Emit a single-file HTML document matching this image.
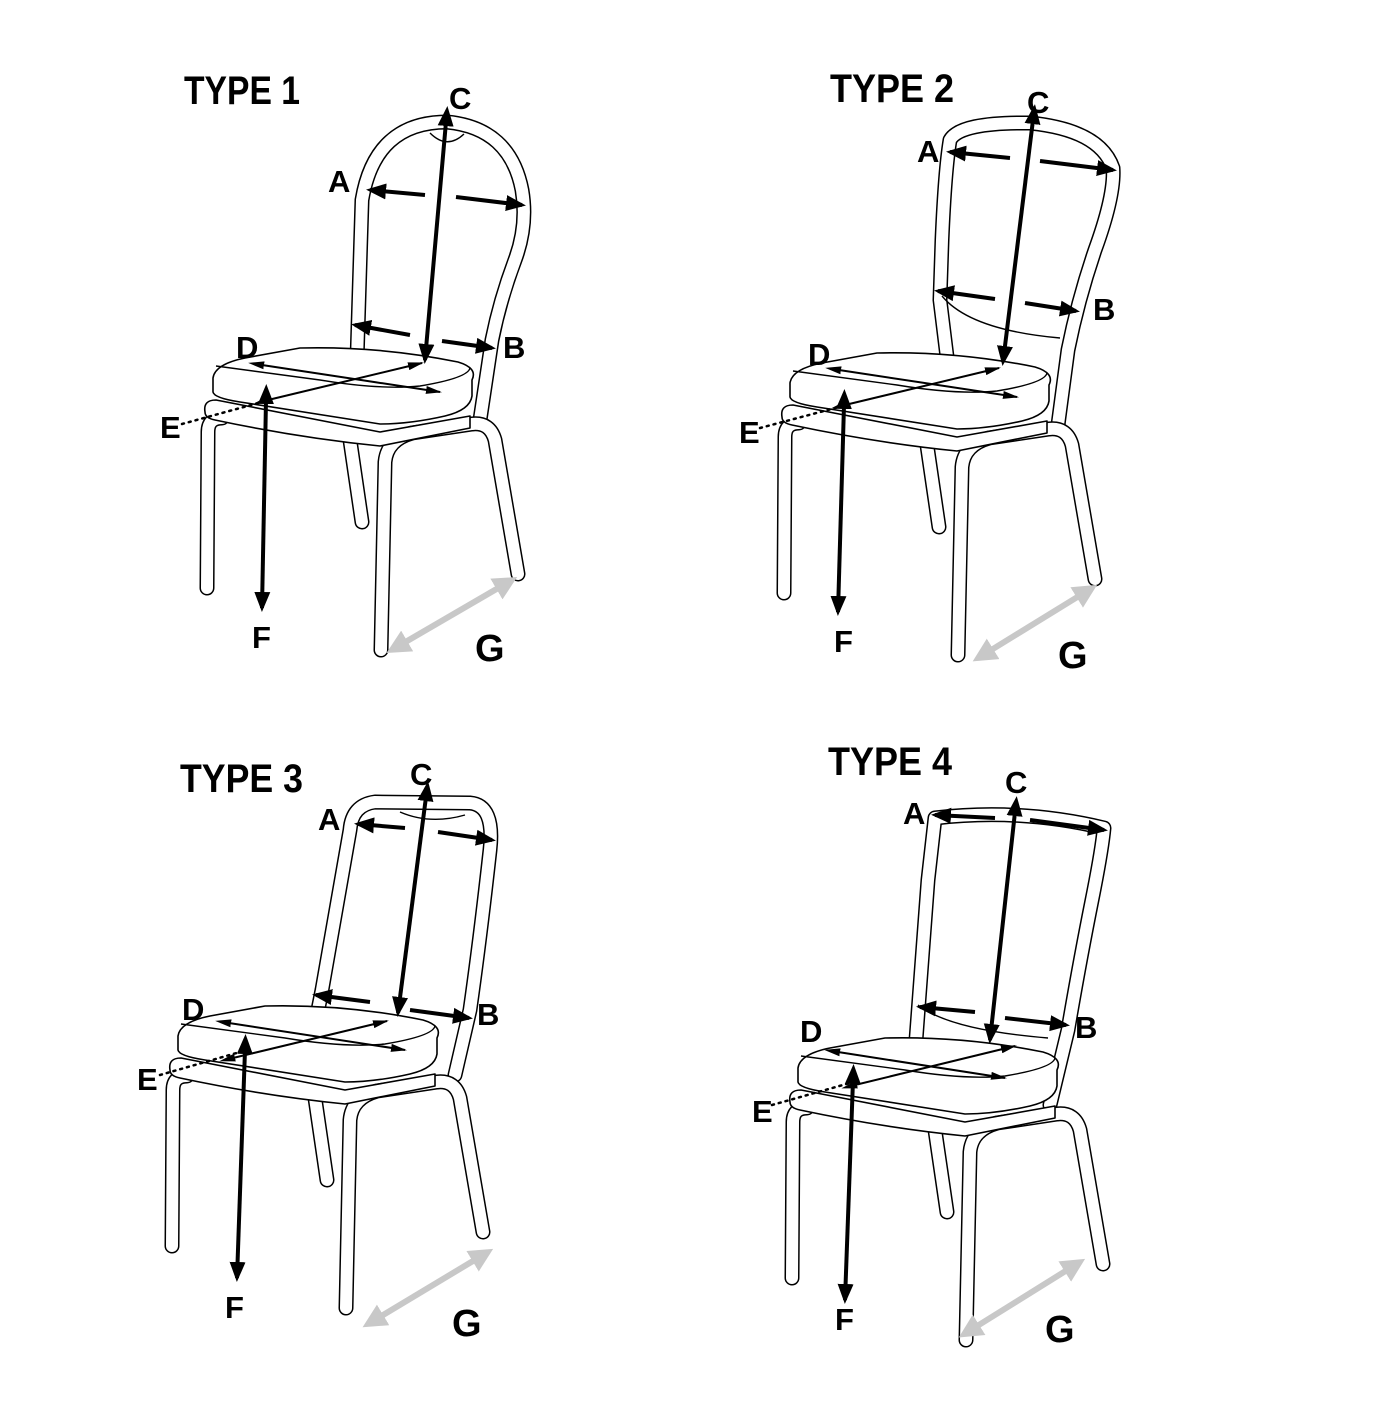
<!DOCTYPE html>
<html><head><meta charset="utf-8"><style>
html,body{margin:0;padding:0;background:#fff}
svg{display:block}
.t{font-family:"Liberation Sans Narrow","Liberation Sans",sans-serif;font-weight:bold;font-size:40px;fill:#000}
.l{font-family:"Liberation Sans",sans-serif;font-weight:bold;font-size:31px;fill:#000}
.g{font-size:38px}
.a{stroke:#000;stroke-width:4;fill:none;marker-end:url(#ah);marker-start:url(#ahs)}
.a1{stroke:#000;stroke-width:4;fill:none}
.d{stroke:#000;stroke-width:2;fill:none;marker-end:url(#sh);marker-start:url(#shs)}
.e{stroke:#000;stroke-width:2.5;stroke-dasharray:2 5;stroke-linecap:round;fill:none}
.gr{stroke:#c8c8c8;stroke-width:6;fill:none;marker-end:url(#gh);marker-start:url(#ghs)}
.tb{fill:none;stroke:#000;stroke-width:15;stroke-linecap:round;stroke-linejoin:round}
.tw{fill:none;stroke:#fff;stroke-width:12;stroke-linecap:round;stroke-linejoin:round}
.s{fill:#fff;stroke:#000;stroke-width:1.6;stroke-linejoin:round}
.ln{fill:none;stroke:#000;stroke-width:1.4}
</style></head><body>
<svg width="1400" height="1402" viewBox="0 0 1400 1402" xmlns="http://www.w3.org/2000/svg">
<defs>
<marker id="ah" markerWidth="5" markerHeight="5" refX="4" refY="2.5" orient="auto" markerUnits="strokeWidth"><path d="M0,0.5 L5,2.5 L0,4.5 Z"/></marker>
<marker id="ahs" markerWidth="5" markerHeight="5" refX="1" refY="2.5" orient="auto-start-reverse" markerUnits="strokeWidth"><path d="M0,0.5 L5,2.5 L0,4.5 Z"/></marker>
<marker id="sh" markerWidth="8" markerHeight="6" refX="7" refY="3" orient="auto" markerUnits="strokeWidth"><path d="M0,1 L8,3 L0,5 Z"/></marker>
<marker id="shs" markerWidth="8" markerHeight="6" refX="1" refY="3" orient="auto-start-reverse" markerUnits="strokeWidth"><path d="M0,1 L8,3 L0,5 Z"/></marker>
<marker id="gh" markerWidth="4" markerHeight="4" refX="3" refY="2" orient="auto" markerUnits="strokeWidth"><path d="M0,0 L4,2 L0,4 Z" fill="#c8c8c8"/></marker>
<marker id="ghs" markerWidth="4" markerHeight="4" refX="1" refY="2" orient="auto-start-reverse" markerUnits="strokeWidth"><path d="M0,0 L4,2 L0,4 Z" fill="#c8c8c8"/></marker>
<g id="legs">
<path class="tb" d="M350,440 L362,522"/><path class="tw" d="M350,440 L362,522"/>
<path class="tb" d="M207,588 L208,432 Q208,418 222,418"/><path class="tw" d="M207,588 L208,432 Q208,418 222,418"/>
<path class="tb" d="M381,650 L385,462 Q387,440 412,433 L472,424 Q490,422 495,440 L518,574"/>
<path class="tw" d="M381,650 L385,462 Q387,440 412,433 L472,424 Q490,422 495,440 L518,574"/>
</g>
<g id="seat">
<path class="s" d="M205,412 Q203,400 216,400 L380,432 L470,416 L470,428 L380,446 Q300,438 215,420 Q205,418 205,412 Z"/>
<path class="s" d="M213,378 Q215,364 245,358 L300,348 Q380,346 458,362 Q478,368 472,380 L472,396 Q470,410 445,416 Q410,424 380,424 L240,402 Q214,398 213,392 Z"/>
<path class="ln" d="M216,366 L320,380 Q380,390 420,386 Q468,378 470,368"/>
</g>
</defs>

<!-- TYPE 1 -->
<text class="t" x="184" y="104" textLength="116" lengthAdjust="spacingAndGlyphs">TYPE 1</text>
<path class="tb" d="M480,420 L492,340 Q500,300 515,260 Q528,225 522,190 Q510,128 447,122 Q375,122 362,200 L357,360"/>
<path class="tw" d="M480,420 L492,340 Q500,300 515,260 Q528,225 522,190 Q510,128 447,122 Q375,122 362,200 L357,360"/>
<path class="ln" d="M430,133 Q447,150 464,134"/>
<use href="#legs"/><use href="#seat"/>
<path class="a" d="M446,122 L425,360"/>
<path class="a1" d="M425,195 L370,190" marker-end="url(#ah)"/>
<path class="a1" d="M456,197 L522,205" marker-end="url(#ah)"/>
<path class="a1" d="M410,335 L355,325" marker-end="url(#ah)"/>
<path class="a1" d="M442,341 L492,348" marker-end="url(#ah)"/>
<path class="d" d="M262,365 L440,392"/><path class="d" d="M268,400 L422,363"/>
<path class="a" d="M266,400 L262,608"/>
<path class="e" d="M182,424 L262,402"/>
<path class="gr" d="M402,644 L512,580"/>
<text class="l" x="449" y="109">C</text><text class="l" x="328" y="192">A</text>
<text class="l" x="503" y="358">B</text><text class="l" x="236" y="358">D</text>
<text class="l" x="160" y="438">E</text><text class="l" x="252" y="648">F</text>
<text class="l g" x="475" y="661">G</text>

<!-- TYPE 2 -->
<text class="t" x="830" y="102" textLength="124" lengthAdjust="spacingAndGlyphs">TYPE 2</text>
<path class="tb" d="M1058,425 L1068,350 Q1078,300 1095,250 Q1115,195 1113,168 Q1100,130 1030,123 Q960,122 950,140 Q945,170 942,240 L940,300 L948,365"/>
<path class="tw" d="M1058,425 L1068,350 Q1078,300 1095,250 Q1115,195 1113,168 Q1100,130 1030,123 Q960,122 950,140 Q945,170 942,240 L940,300 L948,365"/>
<path class="ln" d="M942,296 Q970,330 1060,338"/>
<g transform="translate(577,5)"><use href="#legs"/><use href="#seat"/></g>
<path class="a" d="M1033,120 L1003,362"/>
<path class="a1" d="M1010,158 L950,152" marker-end="url(#ah)"/>
<path class="a1" d="M1040,161 L1113,170" marker-end="url(#ah)"/>
<path class="a1" d="M995,299 L938,291" marker-end="url(#ah)"/>
<path class="a1" d="M1025,303 L1076,311" marker-end="url(#ah)"/>
<path class="d" d="M839,370 L1017,397"/><path class="d" d="M845,405 L999,368"/>
<path class="a" d="M844,405 L838,612"/>
<path class="e" d="M760,428 L839,407"/>
<path class="gr" d="M988,652 L1092,588"/>
<text class="l" x="1027" y="113">C</text><text class="l" x="917" y="162">A</text>
<text class="l" x="1093" y="320">B</text><text class="l" x="808" y="365">D</text>
<text class="l" x="739" y="443">E</text><text class="l" x="834" y="652">F</text>
<text class="l g" x="1058" y="668">G</text>

<!-- TYPE 3 -->
<text class="t" x="180" y="792" textLength="123" lengthAdjust="spacingAndGlyphs">TYPE 3</text>
<path class="tb" d="M455,1075 L470,1010 Q480,940 490,850 Q495,805 470,803 L375,802 Q352,805 350,830 L322,990 L316,1020"/>
<path class="tw" d="M455,1075 L470,1010 Q480,940 490,850 Q495,805 470,803 L375,802 Q352,805 350,830 L322,990 L316,1020"/>
<path class="ln" d="M400,812 Q430,825 465,815"/>
<g transform="translate(-35,658)"><use href="#legs"/><use href="#seat"/></g>
<path class="a" d="M426,797 L398,1013"/>
<path class="a1" d="M405,828 L358,824" marker-end="url(#ah)"/>
<path class="a1" d="M438,832 L492,840" marker-end="url(#ah)"/>
<path class="a1" d="M370,1002 L316,995" marker-end="url(#ah)"/>
<path class="a1" d="M410,1010 L469,1018" marker-end="url(#ah)"/>
<path class="d" d="M229,1023 L405,1050"/><path class="d" d="M233,1058 L387,1021"/>
<path class="a" d="M245,1050 L237,1278"/>
<path class="e" d="M160,1075 L240,1052"/>
<path class="gr" d="M378,1318 L488,1252"/>
<text class="l" x="410" y="785">C</text><text class="l" x="318" y="830">A</text>
<text class="l" x="477" y="1025">B</text><text class="l" x="182" y="1020">D</text>
<text class="l" x="137" y="1090">E</text><text class="l" x="225" y="1318">F</text>
<text class="l g" x="452" y="1336">G</text>

<!-- TYPE 4 -->
<text class="t" x="828" y="775" textLength="124" lengthAdjust="spacingAndGlyphs">TYPE 4</text>
<path class="tb" d="M1050,1105 L1068,1030 Q1080,960 1092,900 Q1102,850 1104,828 Q1020,808 935,818 L928,880 L916,1040"/>
<path class="tw" d="M1050,1105 L1068,1030 Q1080,960 1092,900 Q1102,850 1104,828 Q1020,808 935,818 L928,880 L916,1040"/>
<path class="ln" d="M918,1005 Q950,1030 1048,1038"/>
<g transform="translate(585,690)"><use href="#legs"/><use href="#seat"/></g>
<path class="a" d="M1015,812 L990,1040"/>
<path class="a1" d="M995,818 L935,815" marker-end="url(#ah)"/>
<path class="a1" d="M1030,820 L1104,830" marker-end="url(#ah)"/>
<path class="a1" d="M975,1012 L920,1007" marker-end="url(#ah)"/>
<path class="a1" d="M1005,1018 L1066,1025" marker-end="url(#ah)"/>
<path class="d" d="M838,1052 L1005,1078"/><path class="d" d="M855,1085 L1015,1046"/>
<path class="a" d="M853,1080 L845,1300"/>
<path class="e" d="M772,1105 L850,1083"/>
<path class="gr" d="M974,1328 L1080,1262"/>
<text class="l" x="1005" y="793">C</text><text class="l" x="903" y="824">A</text>
<text class="l" x="1075" y="1038">B</text><text class="l" x="800" y="1042">D</text>
<text class="l" x="752" y="1122">E</text><text class="l" x="835" y="1330">F</text>
<text class="l g" x="1045" y="1342">G</text>
</svg>
</body></html>
